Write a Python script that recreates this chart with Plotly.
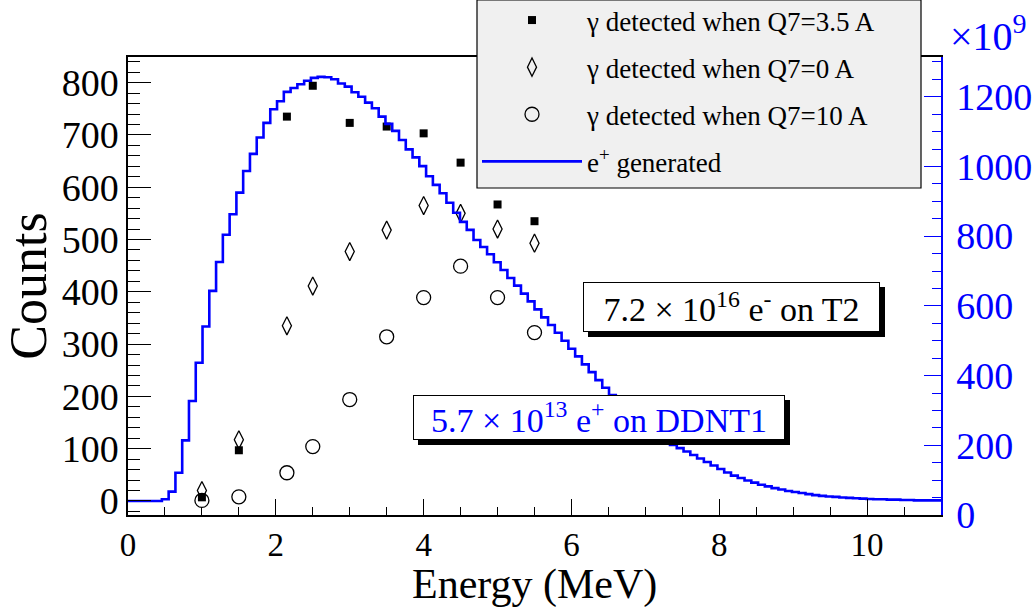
import numpy as np
import plotly.graph_objects as go

# ---------------- data ----------------
energy = [1.0, 1.5, 2.15, 2.5, 3.0, 3.5, 4.0, 4.5, 5.0, 5.5]
counts_q7_3p5 = [7, 97, 735, 794, 723, 716, 703, 647, 567, 535]
counts_q7_0 = [20, 117, 335, 411, 477, 518, 565, 550, 520, 493]
counts_q7_10 = [1, 8, 54, 104, 194, 314, 389, 449, 389, 322]

hist_lo, hist_hi, n_bins = 0.0, 11.0, 120
eplus_generated = [
    40, 40, 40, 40, 40, 45, 67, 121, 214, 327,
    437, 541, 643, 726, 804, 863, 925, 987, 1036, 1083,
    1125, 1164, 1187, 1214, 1225, 1236, 1246, 1254, 1257, 1256,
    1250, 1238, 1229, 1213, 1200, 1183, 1167, 1143, 1122, 1102,
    1076, 1049, 1026, 1001, 972, 947, 923, 896, 867, 841,
    818, 789, 769, 748, 725, 703, 680, 658, 635, 613,
    590, 567, 545, 523, 500, 477, 455, 432, 410, 387,
    365, 344, 324, 306, 287, 270, 254, 238, 224, 211,
    201, 192, 182, 172, 162, 152, 142, 132, 122, 113,
    106, 99, 93, 87, 82, 77, 73, 69, 66, 63,
    60, 57, 55, 53, 52, 50, 49, 48, 47, 46,
    45, 45, 44, 44, 43, 43, 42, 42, 42, 42,
]

legend_names = [
    "γ detected when Q7=3.5 A",
    "γ detected when Q7=0 A",
    "γ detected when Q7=10 A",
    "e<sup>+</sup> generated",
]
x_title = "Energy (MeV)"
y_title = "Counts"
box1_text = "7.2 × 10<sup>16</sup> e<sup>-</sup> on T2"
box2_text = "5.7 × 10<sup>13</sup> e<sup>+</sup> on DDNT1"

# ---------------- layout geometry ----------------
W, H = 1036, 611
L, R, T, B = 128, 95, 57, 96
PW, PH = W - L - R, H - T - B
FONT = "Liberation Serif"
BLUE = "#0000ff"


def px(x):
    return (x - L) / PW


def py(y):
    return (H - B - y) / PH


fig = go.Figure()

edges = np.linspace(hist_lo, hist_hi, n_bins + 1)

fig.add_trace(go.Scatter(
    x=energy, y=counts_q7_3p5, mode="markers", name=legend_names[0],
    legendgroup="a",
    marker=dict(symbol="square", size=8, color="black"),
))
fig.add_trace(go.Scatter(
    x=energy, y=counts_q7_0, mode="markers", name=legend_names[1],
    legendgroup="b",
    marker=dict(symbol="diamond-tall-open", size=13, color="black",
                line=dict(width=1.3, color="black")),
))
fig.add_trace(go.Scatter(
    x=energy, y=counts_q7_10, mode="markers", name=legend_names[2],
    legendgroup="c",
    marker=dict(symbol="circle-open", size=14, color="black",
                line=dict(width=1.3, color="black")),
))
fig.add_trace(go.Scatter(
    x=edges, y=list(eplus_generated) + [eplus_generated[-1]],
    mode="lines", line=dict(shape="hv", color=BLUE, width=2.6),
    name=legend_names[3], legendgroup="d", yaxis="y2",
))

shapes = [
    # legend frame
    dict(type="rect", xref="paper", yref="paper",
         x0=px(477), x1=px(921), y0=py(188), y1=py(0),
         fillcolor="#f0f0f0", line=dict(color="black", width=1.2), layer="above"),
    # text box shadows
    dict(type="rect", xref="paper", yref="paper",
         x0=px(588), x1=px(885), y0=py(337), y1=py(287),
         fillcolor="black", line=dict(width=0), layer="above"),
    dict(type="rect", xref="paper", yref="paper",
         x0=px(418), x1=px(790), y0=py(445), y1=py(400),
         fillcolor="black", line=dict(width=0), layer="above"),
]

annotations = [
    dict(xref="paper", yref="paper", x=px(731.5), y=py(307), xanchor="center",
         yanchor="middle", text=box1_text, showarrow=False,
         font=dict(family=FONT, size=34, color="black"),
         bgcolor="white", bordercolor="black", borderwidth=1, borderpad=0,
         width=295, height=48),
    dict(xref="paper", yref="paper", x=px(599), y=py(417.5), xanchor="center",
         yanchor="middle", text=box2_text, showarrow=False,
         font=dict(family=FONT, size=34, color=BLUE),
         bgcolor="white", bordercolor="black", borderwidth=1, borderpad=0,
         width=370, height=43),
    dict(xref="paper", yref="paper", x=px(988), y=py(33), xanchor="center",
         yanchor="middle", text="×10<sup>9</sup>", showarrow=False,
         font=dict(family=FONT, size=40, color=BLUE)),
    dict(xref="paper", yref="paper", x=0.5, y=py(584), xanchor="center",
         yanchor="middle", text=x_title, showarrow=False,
         font=dict(family=FONT, size=42, color="black")),
]

fig.update_layout(
    width=W, height=H,
    margin=dict(l=L, r=R, t=T, b=B, pad=0, autoexpand=False),
    paper_bgcolor="white", plot_bgcolor="white",
    font=dict(family=FONT, color="black"),
    showlegend=True,
    legend=dict(x=px(477), y=py(-4), xanchor="left", yanchor="top",
                bgcolor="rgba(0,0,0,0)", borderwidth=0,
                font=dict(family=FONT, size=27, color="black"),
                itemwidth=100, tracegroupgap=9, traceorder="grouped"),
    shapes=shapes,
    annotations=annotations,
    xaxis=dict(
        range=[0, 11], showgrid=False, zeroline=False,
        showline=True, linecolor="black", linewidth=1.5, mirror=True,
        ticks="inside", ticklen=16, tickwidth=1.2, tickcolor="black",
        tick0=0, dtick=2,
        minor=dict(dtick=0.5, ticks="inside", ticklen=8, tickwidth=1.2, tickcolor="black"),
        tickfont=dict(family=FONT, size=33, color="black"),
        ticklabelstandoff=0,
    ),
    yaxis=dict(
        range=[-26.8, 849], showgrid=False, zeroline=False,
        showline=True, linecolor="black", linewidth=1.5,
        ticks="inside", ticklen=23, tickwidth=1.2, tickcolor="black",
        tick0=0, dtick=100,
        minor=dict(dtick=20, ticks="inside", ticklen=12, tickwidth=1.2, tickcolor="black"),
        tickfont=dict(family=FONT, size=38, color="black"),
        ticklabelstandoff=0,
        title=dict(text=y_title, font=dict(family=FONT, size=52, color="black"),
                   standoff=10),
    ),
    yaxis2=dict(
        overlaying="y", side="right", anchor="x",
        range=[0, 1314], showgrid=False, zeroline=False,
        showline=True, linecolor=BLUE, linewidth=1.5,
        ticks="inside", ticklen=17, tickwidth=1.2, tickcolor=BLUE,
        tick0=0, dtick=200,
        minor=dict(dtick=50, ticks="inside", ticklen=9, tickwidth=1.2, tickcolor=BLUE),
        tickfont=dict(family=FONT, size=38, color=BLUE),
        ticklabelstandoff=6,
    ),
)

fig.write_html("out.html")
